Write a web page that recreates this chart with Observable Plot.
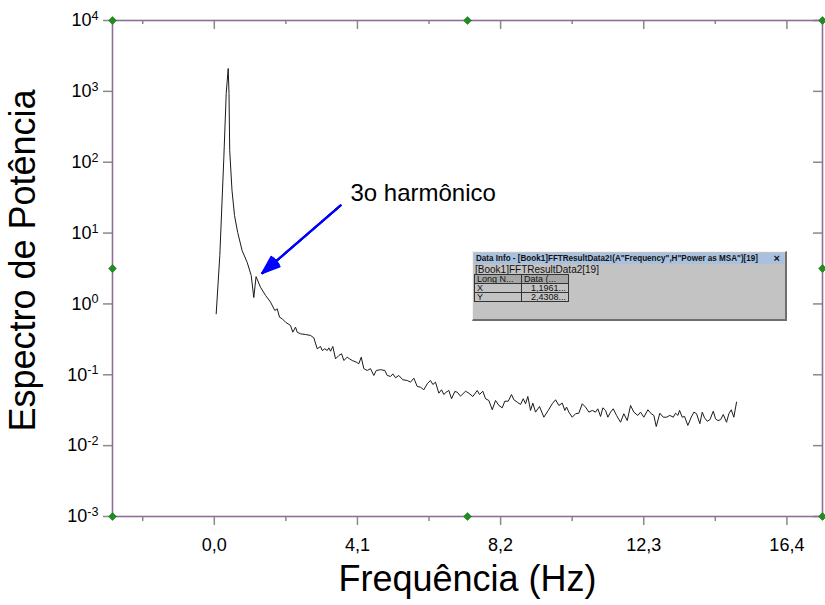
<!DOCTYPE html>
<html><head><meta charset="utf-8">
<script src="https://cdn.jsdelivr.net/npm/d3@7"></script>
<script src="https://cdn.jsdelivr.net/npm/@observablehq/plot@0.6"></script>
<style>
body{margin:0;background:#fff;}
#wrap{position:relative;width:825px;height:605px;overflow:hidden;}
#info{position:absolute;left:472px;top:251px;width:315px;height:70px;background:#c3c3c3;box-sizing:border-box;
 border-top:1px solid #f4f4f4;border-left:1px solid #f4f4f4;border-right:2px solid #6e6e6e;border-bottom:2px solid #6e6e6e;
 font-family:"Liberation Sans",Arial,sans-serif;color:#111;}
#info .tb{position:absolute;left:1px;top:1px;right:1px;height:11px;background:#a9c1df;}
#info .tt{position:absolute;left:2px;top:0;font-weight:bold;font-size:9px;line-height:11px;white-space:nowrap;transform-origin:0 50%;}
#info .cl{position:absolute;right:4px;top:0;font-size:11px;line-height:11px;font-weight:bold;}
#info .l2{position:absolute;left:2px;top:12.5px;font-size:10px;line-height:9px;white-space:nowrap;}
#info table{position:absolute;left:1px;top:22px;border-collapse:collapse;font-size:9px;}
#info td{border:1px solid #333;width:42px;height:8px;padding:0 2px;line-height:8px;white-space:nowrap;overflow:hidden;}
#info tr.h td{background:#a6a6a6;}
#info td.v{text-align:right;}
</style>
</head><body>
<div id="wrap"><div id="info"></div></div>
<script>
// ---- data ----
const freq = [0.054,0.158,0.272,0.341,0.398,0.421,0.441,0.507,0.579,0.670,
0.796,0.942,1.057,1.131,1.1961,1.323,1.467,1.610,1.733,1.802,
1.868,1.945,2.040,2.183,2.249,2.326,2.375,2.469,2.612,2.756,
2.850,2.948,3.042,3.091,3.165,3.234,3.280,3.329,3.394,3.472,
3.566,3.644,3.710,3.807,3.873,3.950,4.065,4.139,4.208,4.282,
4.380,4.474,4.569,4.638,4.761,4.884,4.953,5.047,5.113,5.191,
5.285,5.400,5.526,5.620,5.715,5.812,5.907,6.001,6.099,6.193,
6.259,6.336,6.431,6.508,6.574,6.643,6.717,6.795,6.889,6.958,
7.052,7.196,7.290,7.405,7.531,7.597,7.691,7.769,7.863,7.961,
8.055,8.150,8.247,8.321,8.419,8.513,8.579,8.677,8.771,8.849,
8.914,8.980,9.058,9.123,9.201,9.315,9.439,9.565,9.679,9.774,
9.868,9.966,10.040,10.089,10.155,10.252,10.347,10.441,10.539,10.633,
10.728,10.825,10.920,10.985,11.063,11.129,11.206,11.272,11.349,11.427,
11.521,11.636,11.730,11.828,11.922,12.017,12.131,12.208,12.303,12.418,
12.515,12.589,12.658,12.761,12.859,12.953,13.048,13.145,13.211,13.277,
13.326,13.403,13.469,13.563,13.661,13.735,13.813,13.907,13.976,14.042,
14.119,14.194,14.291,14.357,14.423,14.500,14.578,14.672,14.738,14.807,
14.881,14.958];
const power = [0.726,4.83,113,933,2100,933,146,39.9,17.7,10.2,
5.68,3.85,2.52,1.23,2.4308,1.72,1.32,1.06,0.808,0.854,
0.650,0.617,0.553,0.496,0.399,0.470,0.399,0.379,0.370,0.359,
0.333,0.233,0.251,0.220,0.233,0.220,0.240,0.215,0.251,0.168,
0.187,0.198,0.159,0.177,0.168,0.159,0.151,0.143,0.177,0.122,
0.115,0.122,0.0978,0.115,0.118,0.115,0.0978,0.0947,0.103,0.0908,
0.0978,0.0850,0.0831,0.0787,0.0896,0.0684,0.0668,0.0614,0.0747,0.0831,
0.0730,0.0787,0.0550,0.0614,0.0527,0.0568,0.0601,0.0459,0.0581,0.0568,
0.0499,0.0587,0.0550,0.0494,0.0601,0.0527,0.0587,0.0459,0.0434,0.0321,
0.0434,0.0369,0.0342,0.0424,0.0424,0.0527,0.0444,0.0411,0.0381,0.0459,
0.0390,0.0494,0.0314,0.0398,0.0297,0.0357,0.0252,0.0314,0.0390,0.0444,
0.0369,0.0398,0.0314,0.0350,0.0297,0.0252,0.0282,0.0287,0.0390,0.0350,
0.0297,0.0314,0.0297,0.0331,0.0258,0.0342,0.0314,0.0252,0.0297,0.0331,
0.0267,0.0214,0.0282,0.0226,0.0369,0.0297,0.0267,0.0297,0.0252,0.0321,
0.0282,0.0267,0.0186,0.0287,0.0252,0.0252,0.0267,0.0252,0.0287,0.0267,
0.0314,0.0252,0.0258,0.0193,0.0252,0.0297,0.0282,0.0204,0.0297,0.0247,
0.0221,0.0232,0.0306,0.0239,0.0226,0.0232,0.0275,0.0214,0.0282,0.0321,
0.0252,0.0411];
const xTicks = [0, 4.1, 8.2, 12.3, 16.4];
const xMinorTicks = [-2.05, 2.05, 6.15, 10.25, 14.35];
const yTicks = [1e-3, 1e-2, 1e-1, 1e0, 1e1, 1e2, 1e3, 1e4];
const xDomain = [-2.916, 17.42];
const yDomain = [1e-3, 1e4];
const annotation = [{x: 3.90, y: 36.2, label: "3o harmônico"}];
const arrowData = [{x1: 3.615, y1: 24.5, x2: 1.372, y2: 2.72}];
const xLabel = "Frequência (Hz)";
const yLabel = "Espectro de Potência";
const infoIndex = 14; // the highlighted data point (row [19] in the worksheet)
const infoTitle = 'Data Info - [Book1]FFTResultData2!(A"Frequency",H"Power as MSA")[19]';
const infoSub = "[Book1]FFTResultData2[19]";
const infoHeaders = ["Long N...", "Data (..."];

// ---- build ----
const data = freq.map((f, i) => ({f, p: power[i]}));
const comma = (d, n) => d.toFixed(n).replace(".", ",");
const xMid = (xDomain[0] + xDomain[1]) / 2;
const yMid = Math.sqrt(yDomain[0] * yDomain[1]);
const handles = [];
for (const hx of [xDomain[0], xMid, xDomain[1]])
  for (const hy of [yDomain[0], yMid, yDomain[1]])
    if (!(hx === xMid && hy === yMid)) handles.push({hx, hy});

const tickColor = "#8a8a8a";
const chart = Plot.plot({
  width: 825, height: 605,
  marginLeft: 112, marginRight: 3, marginTop: 20, marginBottom: 89,
  style: {fontFamily: '"Liberation Sans", Arial, sans-serif', background: "white", overflow: "visible", color: "#000"},
  x: {domain: xDomain},
  y: {type: "log", domain: yDomain},
  marks: [
    Plot.axisX(xTicks, {anchor: "bottom", tickSize: 0, tickPadding: 22, tickFormat: d => comma(d, 1), fontSize: 18, label: null}),
    Plot.axisY(yTicks, {anchor: "left", tickSize: 0, tickPadding: 14, tickFormat: d => "10^" + Math.round(Math.log10(d)), fontSize: 18, label: null}),
    // bottom ticks (outward)
    Plot.ruleX(xTicks, {x: d => d, y1: () => yDomain[0], y2: () => yDomain[0], insetBottom: -9, stroke: tickColor, strokeWidth: 1.5}),
    Plot.ruleX(xMinorTicks, {x: d => d, y1: () => yDomain[0], y2: () => yDomain[0], insetBottom: -5, stroke: tickColor, strokeWidth: 1.5}),
    // top ticks (inward)
    Plot.ruleX(xTicks, {x: d => d, y1: () => yDomain[1], y2: () => yDomain[1], insetBottom: -9, stroke: tickColor, strokeWidth: 1.5}),
    Plot.ruleX(xMinorTicks, {x: d => d, y1: () => yDomain[1], y2: () => yDomain[1], insetBottom: -4, stroke: tickColor, strokeWidth: 1.5}),
    // left ticks (outward) and right ticks (inward)
    Plot.ruleY(yTicks, {y: d => d, x1: () => xDomain[0], x2: () => xDomain[0], insetLeft: -9, stroke: tickColor, strokeWidth: 1.5}),
    Plot.ruleY(yTicks, {y: d => d, x1: () => xDomain[1], x2: () => xDomain[1], insetLeft: -9, stroke: tickColor, strokeWidth: 1.5}),
    Plot.frame({stroke: "#8e6f96", strokeWidth: 1.6}),
    Plot.line(data, {x: "f", y: "p", stroke: "#1a1a1a", strokeWidth: 1}),
    ...[10, 20, 30, 40].map(a => Plot.arrow(arrowData, {x1: "x1", y1: "y1", x2: "x2", y2: "y2", stroke: "#0000ff", strokeWidth: 2, headLength: 14, headAngle: a})),
    Plot.text(annotation, {x: "x", y: "y", text: "label", fontSize: 24, textAnchor: "start", lineAnchor: "middle", fill: "#000"}),
    Plot.dot(handles, {x: "hx", y: "hy", symbol: "diamond2", r: 3.5, fill: "#1f8f1f", stroke: "#0b6b0b", strokeWidth: 0.6}),
    Plot.text([xLabel], {text: d => d, frameAnchor: "bottom", dy: 63, textAnchor: "middle", lineAnchor: "middle", fontSize: 36, fill: "#000"}),
    Plot.text([yLabel], {text: d => d, frameAnchor: "left", dx: -89, dy: -8, rotate: -90, textAnchor: "middle", lineAnchor: "middle", fontSize: 36, fill: "#000"})
  ]
});

// superscript exponents on y tick labels
const ns = "http://www.w3.org/2000/svg";
chart.querySelectorAll('g[aria-label="y-axis tick label"] text').forEach(t => {
  const m = t.textContent.match(/^10\^(-?\d+)$/);
  if (!m) return;
  t.textContent = "";
  const a = document.createElementNS(ns, "tspan"); a.textContent = "10";
  const b = document.createElementNS(ns, "tspan"); b.textContent = m[1];
  b.setAttribute("dy", "-0.5em"); b.setAttribute("font-size", "0.7em");
  t.append(a, b);
});
const wrap = document.getElementById("wrap");
wrap.insertBefore(chart, wrap.firstChild);

// Data Info overlay panel
const info = document.getElementById("info");
info.innerHTML = `<div class="tb"><span class="tt"></span><span class="cl">×</span></div>
<div class="l2"></div>
<table><tr class="h"><td></td><td></td></tr><tr><td>X</td><td class="v"></td></tr><tr><td>Y</td><td class="v"></td></tr></table>`;
const tt = info.querySelector(".tt");
tt.textContent = infoTitle;
info.querySelector(".l2").textContent = infoSub;
const tds = info.querySelectorAll("td");
tds[0].textContent = infoHeaders[0];
tds[1].textContent = infoHeaders[1];
tds[3].textContent = comma(freq[infoIndex], 4) + "...";
tds[5].textContent = comma(power[infoIndex], 4) + "...";
const w = tt.getBoundingClientRect().width;
if (w > 0) tt.style.transform = `scaleX(${282 / w})`;
</script>
</body></html>
